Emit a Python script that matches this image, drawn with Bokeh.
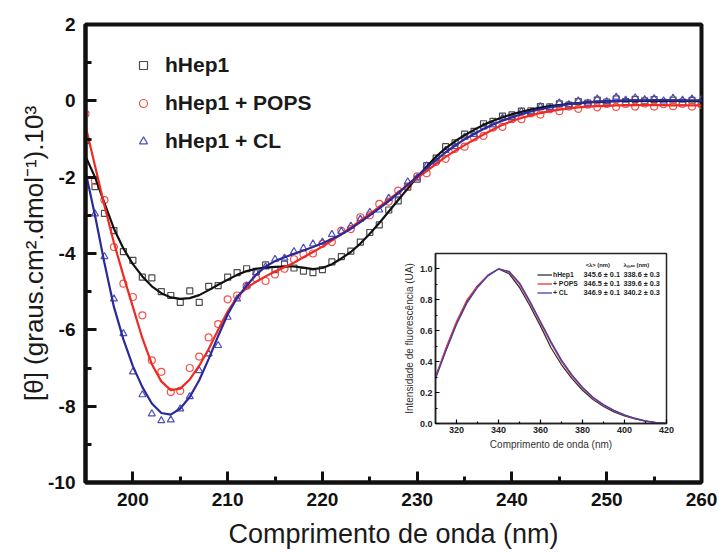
from bokeh.plotting import figure
from bokeh.models import FixedTicker, Legend, LegendItem, GridBox
from bokeh.core.properties import value
from bokeh.embed import file_html
from bokeh.resources import INLINE

# ---------------- data: CD spectra ----------------
cd_wavelength = list(range(195, 261))

black_fit = [-1.45, -2.00, -2.68, -3.35, -3.87, -4.28, -4.60, -4.86, -5.04, -5.15,
             -5.19, -5.17, -5.09, -4.96, -4.82, -4.69, -4.56, -4.46, -4.40, -4.37,
             -4.35, -4.34, -4.34, -4.37, -4.41, -4.38, -4.28, -4.13, -3.96, -3.74,
             -3.48, -3.20, -2.90, -2.60, -2.30, -2.00, -1.72, -1.46, -1.24, -1.06,
             -0.90, -0.76, -0.63, -0.52, -0.43, -0.35, -0.29, -0.23, -0.18, -0.14,
             -0.11, -0.08, -0.06, -0.04, -0.03, -0.02, -0.01, 0.00, 0.00, 0.00,
             0.00, 0.00, 0.00, 0.00, -0.01, -0.01]
red_fit = [-0.65, -1.70, -2.75, -3.72, -4.58, -5.40, -6.22, -6.90, -7.35, -7.58,
           -7.54, -7.30, -6.94, -6.50, -6.00, -5.52, -5.14, -4.90, -4.74, -4.60,
           -4.47, -4.36, -4.24, -4.10, -3.96, -3.82, -3.66, -3.49, -3.32, -3.14,
           -2.96, -2.78, -2.59, -2.40, -2.21, -2.02, -1.84, -1.65, -1.47, -1.31,
           -1.16, -1.02, -0.88, -0.75, -0.63, -0.53, -0.45, -0.38, -0.32, -0.27,
           -0.23, -0.20, -0.17, -0.15, -0.14, -0.13, -0.12, -0.12, -0.11, -0.11,
           -0.11, -0.11, -0.12, -0.12, -0.12, -0.12]
blue_fit = [-1.85, -3.00, -4.25, -5.40, -6.25, -6.95, -7.50, -7.93, -8.18, -8.22,
            -8.06, -7.76, -7.32, -6.76, -6.16, -5.60, -5.16, -4.84, -4.56, -4.34,
            -4.20, -4.10, -4.01, -3.92, -3.83, -3.73, -3.62, -3.50, -3.35, -3.18,
            -3.00, -2.82, -2.63, -2.42, -2.20, -1.98, -1.76, -1.55, -1.35, -1.17,
            -1.01, -0.87, -0.74, -0.62, -0.52, -0.43, -0.35, -0.28, -0.22, -0.17,
            -0.13, -0.09, -0.06, -0.04, -0.02, -0.01, 0.00, 0.01, 0.01, 0.01,
            0.02, 0.02, 0.01, 0.01, 0.01, 0.01]

black_pts = [-1.04, -2.25, -2.95, -3.40, -3.95, -4.18, -4.62, -4.64, -5.00, -5.10,
             -5.28, -4.98, -5.28, -4.86, -4.84, -4.62, -4.50, -4.40, -4.47, -4.30,
             -4.42, -4.28, -4.38, -4.46, -4.50, -4.42, -4.22, -4.08, -3.94, -3.70,
             -3.45, -3.25, -2.86, -2.62, -2.26, -2.05, -1.70, -1.50, -1.20, -1.10,
             -0.87, -0.80, -0.60, -0.54, -0.40, -0.37, -0.27, -0.26, -0.15, -0.16,
             -0.08, -0.11, -0.02, -0.06, 0.02, -0.03, 0.05, -0.02, 0.04, 0.00,
             0.03, -0.04, 0.02, -0.03, 0.01, -0.05]
red_pts = [-0.34, -2.10, -2.60, -3.83, -4.79, -5.14, -5.62, -6.80, -7.10, -7.63,
           -7.60, -7.00, -6.70, -6.20, -5.85, -5.20, -5.10, -4.85, -4.65, -4.72,
           -4.55, -4.40, -4.15, -4.02, -4.00, -3.75, -3.70, -3.40, -3.36, -3.05,
           -3.00, -2.70, -2.64, -2.35, -2.24, -1.98, -1.90, -1.60, -1.52, -1.26,
           -1.20, -0.96, -0.92, -0.70, -0.68, -0.48, -0.48, -0.33, -0.36, -0.22,
           -0.27, -0.15, -0.21, -0.10, -0.17, -0.08, -0.16, -0.08, -0.15, -0.07,
           -0.15, -0.09, -0.14, -0.08, -0.15, -0.10]
blue_pts = [-2.22, -2.96, -4.08, -5.19, -6.10, -7.10, -7.70, -8.20, -8.38, -8.36,
            -8.07, -7.75, -7.07, -6.63, -6.41, -5.67, -5.19, -4.85, -4.50, -4.35,
            -4.15, -4.12, -3.95, -3.86, -3.75, -3.70, -3.50, -3.42, -3.28, -3.10,
            -2.92, -2.86, -2.55, -2.46, -2.12, -2.02, -1.70, -1.58, -1.30, -1.20,
            -0.95, -0.88, -0.68, -0.63, -0.45, -0.44, -0.28, -0.30, -0.15, -0.18,
            -0.05, -0.10, 0.00, -0.06, 0.05, -0.02, 0.10, 0.02, 0.08, 0.03,
            0.06, 0.00, 0.07, 0.02, 0.05, 0.03]

series_labels = ["hHep1", "hHep1 + POPS", "hHep1 + CL"]

x_ticks = [200, 210, 220, 230, 240, 250, 260]
x_tick_labels = ["200", "210", "220", "230", "240", "250", "260"]
x_minor = [205, 215, 225, 235, 245, 255]
y_ticks = [2, 0, -2, -4, -6, -8, -10]
y_tick_labels = ["2", "0", "-2", "-4", "-6", "-8", "-10"]
y_minor = [1, -1, -3, -5, -7, -9]

# ---------------- data: fluorescence inset ----------------
fl_wavelength = list(range(310, 421, 5))
fl_hhep1 = [0.30, 0.48, 0.65, 0.79, 0.89, 0.96, 1.00, 0.97, 0.88, 0.76, 0.63, 0.49,
            0.38, 0.29, 0.215, 0.155, 0.11, 0.075, 0.05, 0.03, 0.015, 0.005, 0.0]
fl_pops = [0.30, 0.49, 0.66, 0.80, 0.89, 0.96, 1.00, 0.98, 0.90, 0.78, 0.65, 0.52,
           0.40, 0.305, 0.23, 0.165, 0.118, 0.082, 0.054, 0.032, 0.016, 0.006, 0.0]
fl_cl = [0.29, 0.47, 0.64, 0.78, 0.88, 0.955, 1.00, 0.985, 0.91, 0.79, 0.66, 0.53,
         0.41, 0.315, 0.235, 0.17, 0.122, 0.085, 0.056, 0.034, 0.017, 0.006, 0.0]
inset_labels = ["hHep1", "+ POPS", "+ CL"]
lam_mean = [345.6, 346.5, 346.9]
lam_mean_err = [0.1, 0.1, 0.1]
lam_max = [338.6, 339.6, 340.2]
lam_max_err = [0.3, 0.3, 0.3]
inset_x_ticks = [320, 340, 360, 380, 400, 420]
inset_x_minor = [310, 330, 350, 370, 390, 410]
inset_y_ticks = [0.0, 0.2, 0.4, 0.6, 0.8, 1.0]
inset_y_labels = ["0.0", "0.2", "0.4", "0.6", "0.8", "1.0"]
inset_y_minor = [0.1, 0.3, 0.5, 0.7, 0.9]

FONT = "Liberation Sans"
BLACK_M, RED_M, BLUE_M = "#4d4d4d", "#f0524c", "#4d4dbb"
BLACK_L, RED_L, BLUE_L = "#111111", "#ee2a22", "#2a2a98"

# shared borders (plots in one grid cell get aligned frames)
BL, BR, BT, BB = 85, 18, 24, 70

# ---------------- main figure ----------------
p = figure(width=719, height=552, x_range=(195, 260), y_range=(-10, 2),
           output_backend="svg", toolbar_location=None,
           min_border_left=BL, min_border_right=BR, min_border_top=BT, min_border_bottom=BB)
p.grid.visible = False
p.outline_line_color = "#111111"
p.outline_line_width = 4
p.background_fill_color = "white"
p.border_fill_color = "white"

r_b = p.scatter(cd_wavelength, black_pts, marker="square", size=6, fill_alpha=0,
                line_color=BLACK_M, line_width=1.2)
r_r = p.scatter(cd_wavelength, red_pts, marker="circle", size=7, fill_alpha=0,
                line_color=RED_M, line_width=1.2)
r_c = p.scatter(cd_wavelength, blue_pts, marker="triangle", size=7, fill_alpha=0,
                line_color=BLUE_M, line_width=1.2)
p.line(cd_wavelength, black_fit, line_color=BLACK_L, line_width=2.2)
p.line(cd_wavelength, red_fit, line_color=RED_L, line_width=2.2)
p.line(cd_wavelength, blue_fit, line_color=BLUE_L, line_width=2.2)

for ax, ticks, minor, labels in ((p.xaxis[0], x_ticks, x_minor, x_tick_labels),
                                 (p.yaxis[0], y_ticks, y_minor, y_tick_labels)):
    ax.ticker = FixedTicker(ticks=ticks, minor_ticks=minor)
    ax.major_label_overrides = {t: l for t, l in zip(ticks, labels)}
    ax.axis_line_width = 4
    ax.axis_line_color = "#111111"
    ax.major_tick_in = 11
    ax.major_tick_out = 0
    ax.minor_tick_in = 6
    ax.minor_tick_out = 0
    ax.major_tick_line_width = 3
    ax.minor_tick_line_width = 3
    ax.major_tick_line_color = "#111111"
    ax.minor_tick_line_color = "#111111"
    ax.major_label_text_font = FONT
    ax.major_label_text_font_style = "bold"
    ax.major_label_text_font_size = "19px"
    ax.major_label_text_color = "#111111"
    ax.axis_label_text_font = FONT
    ax.axis_label_text_font_style = "normal"
    ax.axis_label_text_color = "#1a1a1a"

p.xaxis.major_label_standoff = 10
p.yaxis.major_label_standoff = 10
p.xaxis.axis_label = "Comprimento de onda (nm)"
p.xaxis.axis_label_text_font_size = "27px"
p.xaxis.axis_label_standoff = 10
p.yaxis.axis_label = "[θ] (graus.cm².dmol⁻¹).10³"
p.yaxis.axis_label_text_font_size = "26px"
p.yaxis.axis_label_standoff = -4

legend = Legend(items=[LegendItem(label=series_labels[0], renderers=[r_b]),
                       LegendItem(label=series_labels[1], renderers=[r_r]),
                       LegendItem(label=series_labels[2], renderers=[r_c])],
                location=(48, 329), padding=0, spacing=14,
                glyph_width=20, glyph_height=24, label_height=24, label_standoff=12,
                label_text_font=FONT, label_text_font_style="bold",
                label_text_font_size="21px", label_text_color="#1a1a1a",
                border_line_alpha=0, background_fill_alpha=0)
p.add_layout(legend)

# ---------------- inset figure ----------------
INSET_FW, INSET_FH = 231, 170
ins = figure(width=INSET_FW + BL + BR, height=INSET_FH + BT + BB,
             x_range=(310, 420), y_range=(0, 1.1),
             output_backend="svg", toolbar_location=None,
             min_border_left=BL, min_border_right=BR, min_border_top=BT, min_border_bottom=BB)
ins.grid.visible = False
ins.outline_line_color = "#222222"
ins.outline_line_width = 1.5
ins.background_fill_color = "white"
ins.border_fill_alpha = 0
ins.margin = (253 - BT, 0, 0, 435 - BL)

l1 = ins.line(fl_wavelength, fl_hhep1, line_color="#333333", line_width=1.3)
l2 = ins.line(fl_wavelength, fl_pops, line_color="#e03a3a", line_width=1.3)
l3 = ins.line(fl_wavelength, fl_cl, line_color="#4040b0", line_width=1.3)

for ax, ticks, minor, labels in ((ins.xaxis[0], inset_x_ticks, inset_x_minor,
                                  [str(t) for t in inset_x_ticks]),
                                 (ins.yaxis[0], inset_y_ticks, inset_y_minor, inset_y_labels)):
    ax.ticker = FixedTicker(ticks=ticks, minor_ticks=minor)
    ax.major_label_overrides = {t: l for t, l in zip(ticks, labels)}
    ax.axis_line_width = 1.5
    ax.axis_line_color = "#222222"
    ax.major_tick_in = 4
    ax.major_tick_out = 0
    ax.minor_tick_in = 2
    ax.minor_tick_out = 0
    ax.major_tick_line_width = 1.2
    ax.minor_tick_line_width = 1.2
    ax.major_label_text_font = FONT
    ax.major_label_text_font_style = "bold"
    ax.major_label_text_font_size = "9px"
    ax.major_label_text_color = "#222222"
    ax.major_label_standoff = 3
    ax.axis_label_text_font = FONT
    ax.axis_label_text_font_style = "normal"
    ax.axis_label_text_font_size = "10px"
    ax.axis_label_text_color = "#333333"

ins.xaxis.axis_label = "Comprimento de onda (nm)"
ins.xaxis.axis_label_standoff = 3
ins.yaxis.axis_label = "Intensidade de fluorescência (UA)"
ins.yaxis.axis_label_standoff = 2

ilegend = Legend(items=[LegendItem(label=inset_labels[0], renderers=[l1]),
                        LegendItem(label=inset_labels[1], renderers=[l2]),
                        LegendItem(label=inset_labels[2], renderers=[l3])],
                 location=(102, 126), padding=0, spacing=0,
                 glyph_width=15, glyph_height=9, label_height=9, label_standoff=1,
                 label_text_font=FONT, label_text_font_style="bold",
                 label_text_font_size="6.8px", label_text_color="#222222",
                 border_line_alpha=0, background_fill_alpha=0)
ins.add_layout(ilegend)

col1_x, col2_x = 380.5, 399.5
header_y = 1.025
row_y = [0.964, 0.906, 0.848]
mean_txt = [f"{m:.1f} ± {e:.1f}" for m, e in zip(lam_mean, lam_mean_err)]
max_txt = [f"{m:.1f} ± {e:.1f}" for m, e in zip(lam_max, lam_max_err)]
tkw = dict(text_font=value(FONT), text_font_style="bold",
           text_color="#222222", text_baseline="middle", text_align="left")
ins.text(x=[col1_x + 1.0, col2_x], y=[header_y, header_y],
         text=["<λ> (nm)", "λₘₐₓ (nm)"], text_font_size="5.8px", **tkw)
ins.text(x=[col1_x] * 3, y=row_y, text=mean_txt, text_font_size="7.3px", **tkw)
ins.text(x=[col2_x] * 3, y=row_y, text=max_txt, text_font_size="7.3px", **tkw)

layout = GridBox(children=[(p, 0, 0), (ins, 0, 0)])

with open("out.html", "w") as f:
    f.write(file_html(layout, INLINE))
